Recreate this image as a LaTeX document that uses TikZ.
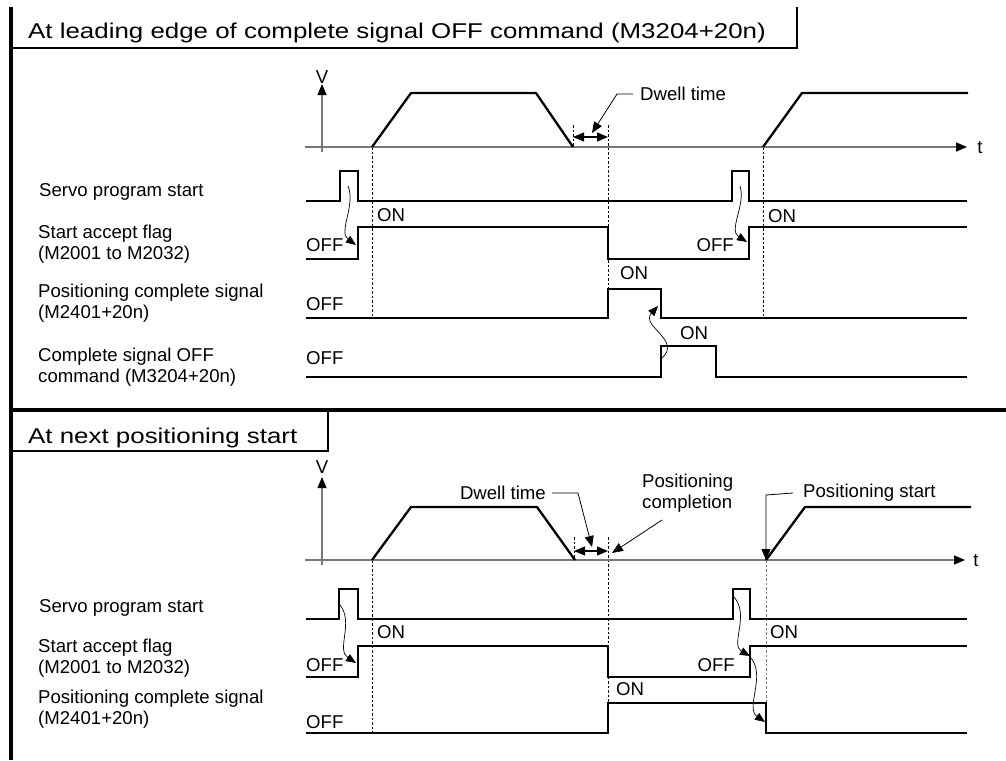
\documentclass[tikz,border=0pt]{standalone}
\usepackage{fontspec}
\setmainfont{Liberation Sans}
\newfontfamily\titlefont[FakeStretch=1.21]{Liberation Sans}
\usetikzlibrary{arrows.meta}
\definecolor{axisgray}{RGB}{120,120,120}
\begin{document}
\begin{tikzpicture}[x=1pt,y=-1pt,
  lbl/.style={font=\fontsize{18.6}{21}\selectfont, inner sep=0pt, align=left},
  ttl/.style={font=\titlefont\fontsize{21.4}{25}\selectfont, inner sep=0pt},
  sig/.style={line width=2.3pt, line join=miter},
  spd/.style={line width=2.3pt, line join=round},
  axis/.style={line width=1.3pt, draw=axisgray, -{Triangle[length=11pt,width=9pt,color=black]}},
  guide/.style={line width=0.8pt, dash pattern=on 2.5pt off 2pt},
  cause/.style={line width=0.7pt, -{Triangle[length=10pt,width=8pt]}},
  dwell/.style={line width=1.1pt, {Triangle[length=11pt,width=9pt]}-{Triangle[length=11pt,width=9pt]}},
  lead/.style={line width=0.8pt, -{Triangle[length=11pt,width=9pt]}},
  frame/.style={line width=3.4pt},
  tbox/.style={line width=2pt},
]
\useasboundingbox (0,0) rectangle (1006,760);

% ---------- frames ----------
\draw[frame] (11,7) -- (11,760);
\draw[line width=3.6pt] (9.3,410) -- (1006,410);
\draw[tbox] (11,48) -- (797,48) -- (797,7);
\draw[tbox] (11,451) -- (328,451) -- (328,410);
\node[ttl, anchor=base west] (t1) at (28,39) {At leading edge of complete signal OFF command (M3204+20n)};
\node[ttl, anchor=base west] (t2) at (28,443) {At next positioning start};

% ================= TOP SECTION =================
\draw[guide] (372,147) -- (372,318);
\draw[guide] (573,125) -- (573,147);
\draw[guide] (608,125) -- (608,289);
\draw[guide] (763,147) -- (763,318);

\draw[axis] (305,147) -- (967,147);
\node[lbl] (ta) at (980,148) {t};
\draw[axis] (322,152) -- (322,84);
\node[lbl] (va) at (322,77) {V};

\draw[spd] (372,147) -- (411,93) -- (536,93) -- (573,147);
\draw[spd] (763,147) -- (802,93) -- (968,93);

\draw[dwell] (573,137) -- (608,137);
\node[lbl, anchor=west] (dwa) at (640,94) {Dwell time};
\draw[lead] ([xshift=-7pt]dwa.west) -- (617,94) -- (592,133);

% left labels
\node[lbl, anchor=west] (la1) at (39,192) {Servo program start};
\node[lbl, anchor=west] (la2) at (38,244) {Start accept flag\\(M2001 to M2032)};
\node[lbl, anchor=west] (la3) at (38,303) {Positioning complete signal\\(M2401+20n)};
\node[lbl, anchor=west] (la4) at (38,367) {Complete signal OFF\\command (M3204+20n)};

% signals
\draw[sig] (306,201) -- (340,201) -- (340,171) -- (358,171) -- (358,201) -- (732,201) -- (732,171) -- (749,171) -- (749,201) -- (967,201);
\draw[sig] (306,259) -- (358,259) -- (358,227) -- (608,227) -- (608,259) -- (749,259) -- (749,227) -- (967,227);
\draw[sig] (306,318) -- (608,318) -- (608,289) -- (661,289) -- (661,318) -- (967,318);
\draw[sig] (306,377) -- (661,377) -- (661,346) -- (716,346) -- (716,377) -- (967,377);

% ON / OFF labels
\node[lbl, anchor=west] (on1) at (377,215) {ON};
\node[lbl, anchor=west] (on2) at (768,216) {ON};
\node[lbl, anchor=west] (of1) at (306,245) {OFF};
\node[lbl, anchor=east] (of2) at (734,245) {OFF};
\node[lbl, anchor=west] (on3) at (620,273) {ON};
\node[lbl, anchor=west] (of3) at (306,304) {OFF};
\node[lbl, anchor=west] (on4) at (680,333) {ON};
\node[lbl, anchor=west] (of4) at (306,358) {OFF};

% cause arrows
\draw[cause] (348,186) .. controls (356,205) and (338,232) .. (356,245);
\draw[cause] (740,186) .. controls (746,205) and (728,230) .. (747,242);
\draw[cause] (662,358) .. controls (682,340) and (640,326) .. (658,306);

% ================= BOTTOM SECTION =================
\draw[guide] (372,560) -- (372,733);
\draw[guide] (574,537) -- (574,560);
\draw[guide] (608,537) -- (608,703);
\draw[guide, draw=axisgray] (766,560) -- (766,703);

\draw[axis] (305,560) -- (965,560);
\node[lbl] (tb) at (976,561) {t};
\draw[axis] (322,565) -- (322,477);
\node[lbl] (vb) at (322,467) {V};

\draw[spd] (372,560) -- (411,507) -- (537,507) -- (575,560);
\draw[spd] (766,560) -- (805,507) -- (971,507);

\draw[dwell] (574,551) -- (608,551);
\node[lbl, anchor=east] (dwb) at (546,493) {Dwell time};
\draw[lead] ([xshift=6pt]dwb.east) -- (578,493) -- (592,547);
\node[lbl, anchor=west] (pcb) at (642,493) {Positioning\\completion};
\draw[lead] (662,520) -- (612,553);
\node[lbl, anchor=west] (psb) at (803,493) {Positioning start};
\draw[lead] ([xshift=-10pt]psb.west) -- (766,495) -- (766,560);

% left labels
\node[lbl, anchor=west] (lb1) at (39,608) {Servo program start};
\node[lbl, anchor=west] (lb2) at (38,658) {Start accept flag\\(M2001 to M2032)};
\node[lbl, anchor=west] (lb3) at (38,709) {Positioning complete signal\\(M2401+20n)};

% signals
\draw[sig] (306,619) -- (339,619) -- (339,589) -- (358,589) -- (358,619) -- (733,619) -- (733,589) -- (750,589) -- (750,619) -- (967,619);
\draw[sig] (306,677) -- (358,677) -- (358,646) -- (608,646) -- (608,677) -- (750,677) -- (750,646) -- (967,646);
\draw[sig] (306,733) -- (608,733) -- (608,703) -- (766,703) -- (766,733) -- (967,733);

% ON / OFF labels
\node[lbl, anchor=west] (on5) at (377,632) {ON};
\node[lbl, anchor=west] (on6) at (770,632) {ON};
\node[lbl, anchor=west] (of5) at (306,665) {OFF};
\node[lbl, anchor=east] (of6) at (735,665) {OFF};
\node[lbl, anchor=west] (on7) at (616,689) {ON};
\node[lbl, anchor=west] (of7) at (306,722) {OFF};

% cause arrows
\draw[cause] (340,605) .. controls (354,622) and (336,650) .. (356,663);
\draw[cause] (734,597) .. controls (750,615) and (730,645) .. (750,656);
\draw[cause] (751,658) .. controls (766,676) and (745,708) .. (765,722);
\end{tikzpicture}
\end{document}
